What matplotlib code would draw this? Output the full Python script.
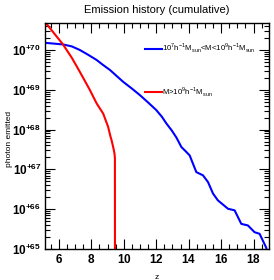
"""Cumulative emission history, ROOT-like log plot"""
import numpy as np
import matplotlib.pyplot as plt
from matplotlib.ticker import FixedLocator, FuncFormatter, LogLocator, MultipleLocator, NullFormatter

plt.rcParams['font.family'] = ['Liberation Sans', 'DejaVu Sans']
plt.rcParams['mathtext.fontset'] = 'custom'
plt.rcParams['mathtext.rm'] = 'Liberation Sans'
plt.rcParams['mathtext.bf'] = 'Liberation Sans:bold'

# blue: 1e7 < M < 1e9 (log10 of photons)
z_small = [5.17, 6.25, 6.8, 7.29, 7.8, 8.32, 8.7, 9.14, 9.55, 9.96, 10.5, 10.98, 11.5,
           12.0, 12.35, 12.63, 12.95, 13.24, 13.55, 13.8, 14.06, 14.47, 14.88, 15.19,
           15.5, 15.8, 16.42, 16.83, 17.24, 17.65, 18.06, 18.37, 18.78, 18.95]
log_small = [70.18, 70.14, 70.09, 70.0, 69.88, 69.75, 69.63, 69.5, 69.35, 69.2, 69.03,
             68.87, 68.68, 68.49, 68.32, 68.15, 67.98, 67.8, 67.56, 67.46, 67.35, 66.93,
             66.85, 66.68, 66.39, 66.22, 66.01, 65.97, 65.63, 65.59, 65.42, 65.38, 65.03, 64.6]
# red: M > 1e9
z_big = [5.17, 5.7, 6.25, 6.8, 7.29, 7.9, 8.32, 8.73, 9.03, 9.18, 9.24, 9.32, 9.38,
         9.43, 9.45, 9.46]
log_big = [70.69, 70.42, 70.14, 69.8, 69.45, 69.0, 68.66, 68.4, 68.07, 67.82, 67.74,
           67.6, 67.49, 67.38, 67.28, 60.0]

labels = [r'10$^{7}$h$^{-1}$M$_{\rm sun}$<M<10$^{9}$h$^{-1}$M$_{\rm sun}$',
          r'M>10$^{9}$h$^{-1}$M$_{\rm sun}$']

fig = plt.figure(figsize=(2.74, 2.80), dpi=100)
ax = fig.add_axes([0.166, 0.111, 0.814, 0.807])

ax.plot(z_small, 10.0 ** np.array(log_small), color='#0000ff', lw=1.5, label=labels[0])
ax.plot(z_big, 10.0 ** np.array(log_big), color='#ff0000', lw=1.5, label=labels[1])

ax.set_yscale('log')
ax.set_xlim(5.17, 18.92)
ax.set_ylim(1e65, 10 ** 70.68)

ax.xaxis.set_major_locator(MultipleLocator(2))
ax.xaxis.set_minor_locator(MultipleLocator(0.5))
ax.yaxis.set_major_locator(FixedLocator([10.0 ** k for k in range(65, 71)]))
ax.yaxis.set_minor_locator(LogLocator(base=10, subs=np.arange(2, 10), numticks=20))
ax.yaxis.set_minor_formatter(NullFormatter())
ax.yaxis.set_major_formatter(FuncFormatter(
    lambda v, p: r'$\mathbf{10^{+%d}}$' % round(np.log10(v))))
ax.xaxis.set_major_formatter(FuncFormatter(lambda v, p: r'$\mathbf{%d}$' % v))

ax.tick_params(which='both', direction='in', top=True, right=True, width=0.8)
ax.tick_params(which='major', length=7, labelsize=8.5, pad=3)
ax.tick_params(which='minor', length=3.5)
for s in ax.spines.values():
    s.set_linewidth(1.0)

ax.set_title('Emission history (cumulative)', fontsize=8, pad=7)
ax.set_xlabel('z', fontsize=6, labelpad=6)
ax.set_ylabel('photon emitted', fontsize=6)
ax.yaxis.set_label_coords(-0.145, 0.485)

ax.legend(loc='upper left', bbox_to_anchor=(0.43, 0.93), frameon=False, fontsize=5.6,
          handlelength=2.2, handletextpad=0.1, labelspacing=3.9, borderaxespad=0)

fig.savefig('out.png', dpi=100)
